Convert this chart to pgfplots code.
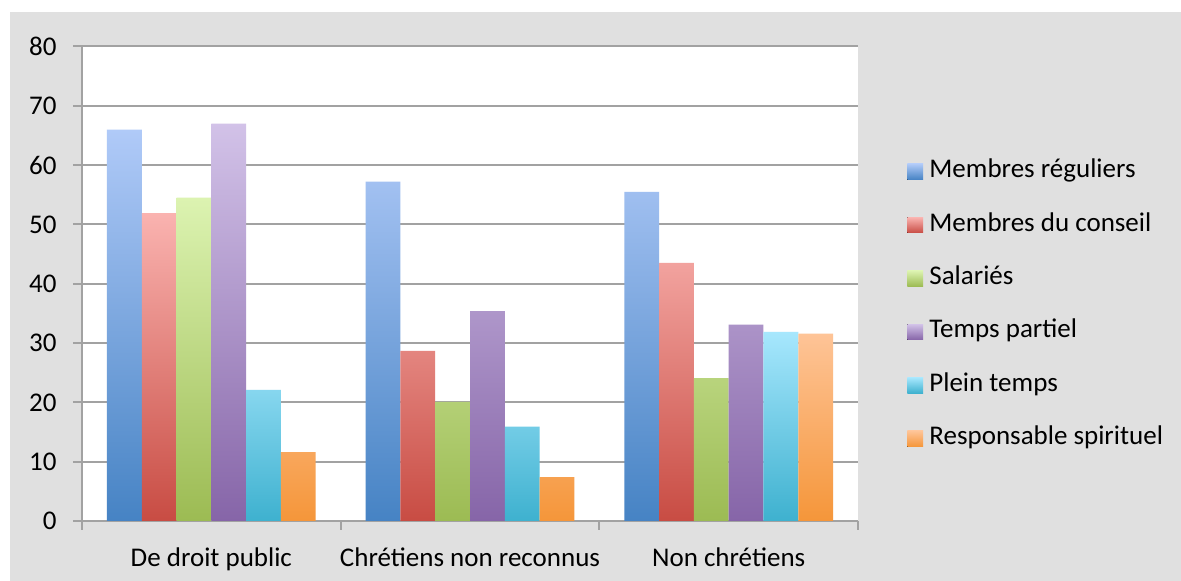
\documentclass[border=0pt]{standalone}
\usepackage{pgfplots}
\pgfplotsset{compat=1.18}
\usepackage{fontspec}
\setmainfont{Carlito}
\definecolor{bgc}{HTML}{E0E0E0}
\definecolor{gridc}{HTML}{A2A2A2}
\definecolor{bluet}{HTML}{B0CAF8}\definecolor{blueb}{HTML}{4683C4}
\definecolor{redt}{HTML}{FAB3B0}\definecolor{redb}{HTML}{C84C43}
\definecolor{greent}{HTML}{DCF3B1}\definecolor{greenb}{HTML}{9CBB53}
\definecolor{purt}{HTML}{D2C2E8}\definecolor{purb}{HTML}{8665A8}
\definecolor{cyant}{HTML}{A7E7FD}\definecolor{cyanb}{HTML}{3EB1CF}
\definecolor{orat}{HTML}{FEC497}\definecolor{orab}{HTML}{F5963A}
\begin{document}
\begin{tikzpicture}
\useasboundingbox (0,0) rectangle (590.5pt,290.5pt);
\fill[white] (0,0) rectangle (590.5pt,290.5pt);
\fill[bgc] (5pt,0) rectangle (590.5pt,284.5pt);
\begin{axis}[
  at={(41pt,30pt)}, anchor=south west,
  scale only axis, width=388pt, height=237.25pt,
  font=\fontsize{13.5}{16}\selectfont,
  /pgf/number format/assume math mode=true,
  ybar=0pt, bar width=0.1345,
  xmin=0.5, xmax=3.5, ymin=0, ymax=80,
  ytick={0,10,...,80},
  xtick={1,2,3},
  xticklabels={De droit public, Chrétiens non reconnus, Non chrétiens},
  minor xtick={0.5,1.5,2.5,3.5},
  major x tick style={draw=none},
  tick align=outside,
  major tick length=4.5pt, minor tick length=4.5pt,
  tick style={gridc, line width=1pt},
  xtick pos=bottom, ytick pos=left,
  ymajorgrids, grid style={gridc, line width=1pt},
  axis line style={gridc, line width=1pt},
  axis x line*=bottom, axis y line*=left,
  axis background/.style={fill=white},
  x tick label style={anchor=north, inner sep=0pt, yshift=-8.5pt},
  y tick label style={anchor=east, inner sep=0pt, xshift=-8pt},
  legend style={draw=none, fill=none, at={(1,0.5)}, anchor=west, xshift=21.5pt, yshift=-10.75pt,
    row sep=14.7pt, font=\fontsize{13.5}{16}\selectfont,
    nodes={inner sep=0pt, text height=9pt, text depth=3pt}},
  legend cell align=left,
  legend image code/.code={\fill[#1] (0pt,-3.9pt) rectangle (7.9pt,3.9pt); \path (11pt,0);},
]
\addplot[draw=none, top color=bluet, bottom color=blueb] coordinates {(1,66.0) (2,57.2) (3,55.5)};
\addplot[draw=none, top color=redt, bottom color=redb] coordinates {(1,51.9) (2,28.7) (3,43.5)};
\addplot[draw=none, top color=greent, bottom color=greenb] coordinates {(1,54.5) (2,20.1) (3,24.1)};
\addplot[draw=none, top color=purt, bottom color=purb] coordinates {(1,67.0) (2,35.4) (3,33.1)};
\addplot[draw=none, top color=cyant, bottom color=cyanb] coordinates {(1,22.1) (2,15.9) (3,31.9)};
\addplot[draw=none, top color=orat, bottom color=orab] coordinates {(1,11.6) (2,7.4) (3,31.6)};
\legend{Membres réguliers, Membres du conseil, Salariés, Temps partiel, Plein temps, Responsable spirituel}
\end{axis}
\end{tikzpicture}
\end{document}
